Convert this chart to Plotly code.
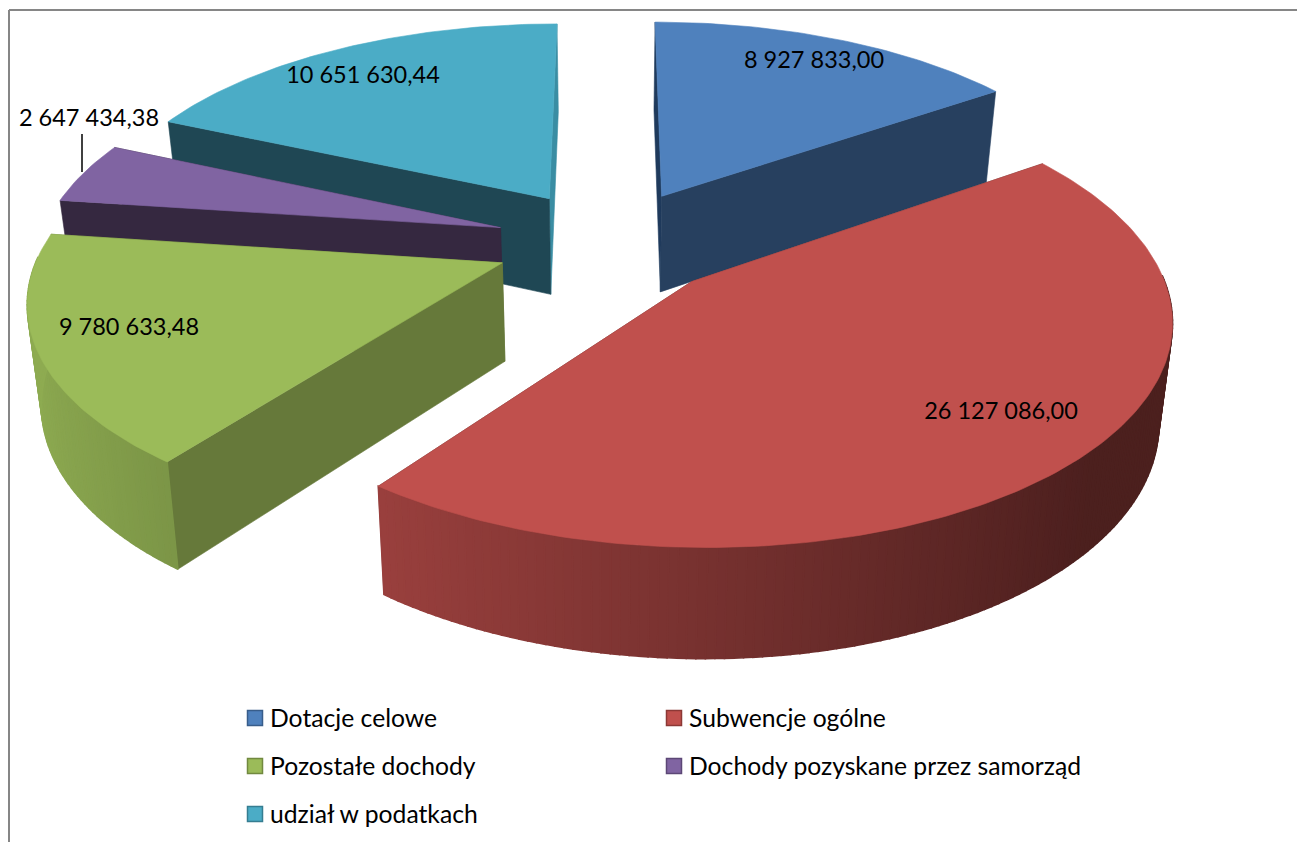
import math
import plotly.graph_objects as go

# ---- data ----
categories = ["Dotacje celowe", "Subwencje ogólne", "Pozostałe dochody",
              "Dochody pozyskane przez samorząd", "udział w podatkach"]
values = [8927833.00, 26127086.00, 9780633.48, 2647434.38, 10651630.44]
value_labels = ["8 927 833,00", "26 127 086,00", "9 780 633,48", "2 647 434,38", "10 651 630,44"]

# ---- style ----
top_colors = ["#4F81BD", "#C0504D", "#9BBB59", "#8064A2", "#4BACC6"]
start_wall_colors = ["#1F3A5C", "#602826", "#66793A", "#352840", "#1F4754"]
end_wall_colors = ["#27405F", "#602826", "#66793A", "#352840", "#3A8DA3"]
edge_colors = ["#385D8A", "#8C3836", "#71893F", "#5C4776", "#357D91"]
draw_order = [4, 0, 3, 2, 1]
label_xy = [(814, 62), (1001, 413), (129, 329), (89, 120), (363, 77)]
legend_xy = [(255, 718), (674, 718), (255, 766), (674, 766), (255, 814)]
FONT = "Lato"
LABEL_FS = 23.5
LEGEND_FS = 24.7

# ---- projection of the exploded tilted pie ----
CX, CY, A, B, K, H, E, DW = 610, 242, 460, 213, 0.15, 100, 0.25, 1.025


def project(x, y, bottom=False):
    w = 1 + K * y
    if bottom:
        w *= DW
        return CX + A * x / w, CY + (-B * y + H) / w
    return CX + A * x / w, CY - B * y / w


def hexmix(col, f):
    r, g, b = (int(col[i:i + 2], 16) for i in (1, 3, 5))
    return "rgb(%d,%d,%d)" % (r * f, g * f, b * f)


total = sum(values)
spans = []
start = 0.0
for v in values:
    end = start + v / total * 2 * math.pi
    spans.append((start, end))
    start = end

fig = go.Figure()


def poly(points, color, lw=0.6):
    fig.add_trace(go.Scatter(
        x=[p[0] for p in points] + [points[0][0]],
        y=[p[1] for p in points] + [points[0][1]],
        mode="lines", fill="toself", fillcolor=color,
        line=dict(color=color, width=lw),
        hoverinfo="skip", showlegend=False))


for i in draw_order:
    a0, a1 = spans[i]
    mid = (a0 + a1) / 2
    ox, oy = E * math.sin(mid), E * math.cos(mid)
    n = max(4, int((a1 - a0) / math.radians(1)))
    thetas = [a0 + (a1 - a0) * j / n for j in range(n + 1)]
    pt = lambda t, r=1.0, bottom=False: project(ox + r * math.sin(t), oy + r * math.cos(t), bottom)

    # radial walls, farther one first
    walls = [(a0, start_wall_colors[i]), (a1, end_wall_colors[i])]
    walls.sort(key=lambda w: math.cos(w[0]), reverse=True)
    for t, c in walls:
        poly([pt(t, 0), pt(t), pt(t, 1, True), pt(t, 0, True)], c)
    # outer wall, shaded strip by strip (only the part facing the viewer)
    for j in range(n):
        t0, t1 = thetas[j], thetas[j + 1]
        tm = (t0 + t1) / 2
        if math.cos(tm) > 0.02:
            continue
        f = max(0.4, 0.62 - 0.3 * math.sin(tm))
        poly([pt(t0), pt(t1), pt(t1, 1, True), pt(t0, 1, True)], hexmix(top_colors[i], f), lw=1.6)
    # top face
    poly([pt(0, 0)] + [pt(t) for t in thetas], top_colors[i])

# leader line of the small slice
lead = (82, 134, 172)
fig.add_trace(go.Scatter(x=[lead[0], lead[0]], y=[lead[1], lead[2]], mode="lines",
                         line=dict(color="black", width=1.5), hoverinfo="skip", showlegend=False))

# data labels
fig.add_trace(go.Scatter(x=[p[0] for p in label_xy], y=[p[1] for p in label_xy], mode="text",
                         text=value_labels, textposition="middle center",
                         textfont=dict(family=FONT, size=LABEL_FS, color="black"),
                         hoverinfo="skip", showlegend=False))

# legend
for i, name in enumerate(categories):
    x, y = legend_xy[i]
    fig.add_trace(go.Scatter(x=[x], y=[y], mode="markers",
                             marker=dict(symbol="square", size=15, color=top_colors[i],
                                         line=dict(color=edge_colors[i], width=1.5)),
                             name=name, hoverinfo="skip", showlegend=False))
    fig.add_annotation(x=x + 13, y=y - 1, text=name, showarrow=False, xanchor="left", yanchor="middle",
                       font=dict(family=FONT, size=LEGEND_FS, color="black"))

# chart frame
fig.add_shape(type="line", x0=9, x1=9, y0=10, y1=842, line=dict(color="#868686", width=2))
fig.add_shape(type="line", x0=9, x1=1297, y0=10, y1=10, line=dict(color="#868686", width=2))

fig.update_layout(
    width=1297, height=842, margin=dict(l=0, r=0, t=0, b=0),
    paper_bgcolor="white", plot_bgcolor="white", showlegend=False,
    xaxis=dict(range=[0, 1297], visible=False, fixedrange=True),
    yaxis=dict(range=[842, 0], visible=False, fixedrange=True),
)
fig.write_html("out.html", config={"displayModeBar": False},
               post_script="document.body.style.margin='0';document.body.style.overflow='hidden';")
